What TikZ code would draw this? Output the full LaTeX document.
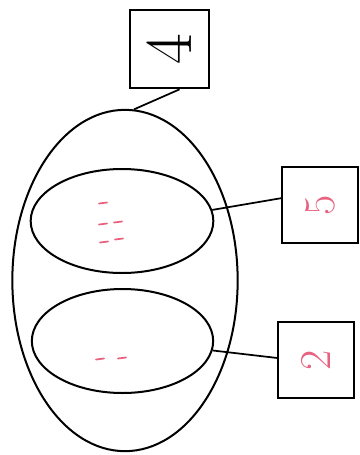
\documentclass[tikz,border=0pt]{standalone}
\usepackage{fontspec}
\usetikzlibrary{shapes.geometric}
\definecolor{markpink}{RGB}{232,98,128}
\tikzset{every picture/.style={line width=0.75pt}}
\tikzset{
setshape/.style={draw, ellipse, inner sep=0pt, line width=1.5pt},
cardbox/.style={draw, rectangle, inner sep=0pt, minimum size=58pt, line width=1.5pt},
elemdash/.style={color=markpink, line width=1.3pt, line cap=round},
linkline/.style={line width=1.3pt}}

\begin{document}
\begin{tikzpicture}[x=0.75pt,y=0.75pt,yscale=-1,xscale=1]
\useasboundingbox (0,0) rectangle (360,455);

%Shape: Ellipse [id:outer]
\node [setshape, minimum width=169pt, minimum height=256pt] (outerset) at (125,280.5) {};
%Shape: Ellipse [id:upper]
\node [setshape, minimum width=137pt, minimum height=78pt] (upperset) at (122,221) {};
%Shape: Ellipse [id:lower]
\node [setshape, minimum width=136pt, minimum height=78pt] (lowerset) at (122.5,341) {};

%Shape: Square [id:card four]
\node [cardbox, minimum size=59pt] (cardfour) at (169.5,49) {};
%Shape: Square [id:card five]
\node [cardbox, minimum size=57pt] (cardfive) at (320.5,205) {};
%Shape: Square [id:card two]
\node [cardbox, minimum size=57pt] (cardtwo) at (316,360) {};

%Straight Lines
\draw [linkline] (cardfour.-76) -- (outerset.87) ;
\draw [linkline] (cardfive.170) -- (upperset.7) ;
\draw [linkline] (cardtwo.177) -- (lowerset.-6) ;

%Elements of the upper set
\foreach \ex/\ey in {103/203, 103/224, 118/222, 104/242, 119/239}
  \draw [elemdash] (\ex-4,\ey+0.5) -- (\ex+4,\ey-0.5) ;
%Elements of the lower set
\foreach \ex/\ey in {100/359, 122/358}
  \draw [elemdash] (\ex-4,\ey+0.5) -- (\ex+4,\ey-0.5) ;

% Text Node
\draw (cardfour.center) node [rotate=90, inner sep=0.75pt] {\fontsize{50}{50}\selectfont 4};
% Text Node
\draw (cardfive.center) node [rotate=90, inner sep=0.75pt, color=markpink] {\fontsize{33}{33}\selectfont 5};
% Text Node
\draw (cardtwo.center) node [rotate=90, inner sep=0.75pt, color=markpink] {\fontsize{33}{33}\selectfont 2};

\end{tikzpicture}
\end{document}
